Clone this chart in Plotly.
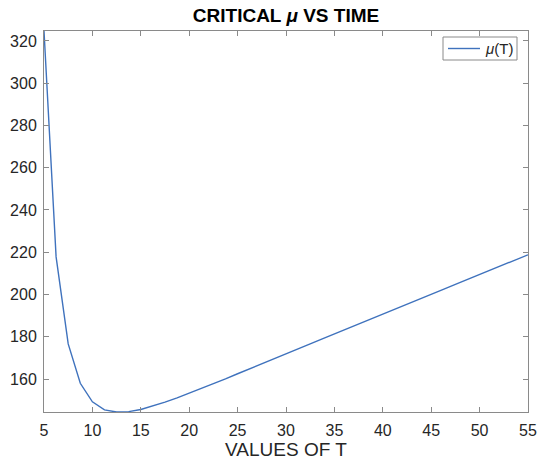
import plotly.graph_objects as go

T_values = [5 + 1.25 * i for i in range(41)]
mu_values = [324.7, 217.8, 176.6, 158.0, 149.2, 145.4, 144.4, 144.6, 145.6, 147.2,
             149.1, 151.1, 153.3, 155.5, 157.8, 160.1, 162.5, 164.8, 167.2, 169.5,
             171.9, 174.3, 176.6, 179.0, 181.3, 183.7, 186.0, 188.4, 190.7, 193.0,
             195.4, 197.7, 200.1, 202.4, 204.8, 207.1, 209.5, 211.8, 214.1, 216.5,
             218.8]
x_ticks = [5, 10, 15, 20, 25, 30, 35, 40, 45, 50, 55]
y_ticks = [160, 180, 200, 220, 240, 260, 280, 300, 320]
legend_label = "<i>μ</i>(T)"

FONT = "Liberation Sans, Arial, sans-serif"
AX = "#8a8a8a"
TXT = "#262626"
LINE = "#3f72bd"

W, H = 539, 460
L, R, TOP, B = 44, 11, 31, 48
PW, PH = W - L - R, H - TOP - B


def px(xp):
    return (xp - L) / PW


def py(yp):
    return (H - B - yp) / PH


fig = go.Figure()
fig.add_trace(go.Scatter(x=T_values, y=mu_values, mode="lines",
                         name=legend_label, showlegend=False,
                         line=dict(color=LINE, width=1.4)))

axis_common = dict(showgrid=False, zeroline=False, showline=True, linecolor=AX,
                   linewidth=1, mirror="ticks", ticks="inside", ticklen=5,
                   tickcolor=AX, automargin=False,
                   tickfont=dict(family=FONT, size=16, color=TXT))

# legend box drawn to match the reference placement
fig.add_shape(type="rect", xref="paper", yref="paper",
              x0=px(443), x1=px(517), y0=py(60), y1=py(37),
              line=dict(color=AX, width=1), fillcolor="white", layer="above")
fig.add_shape(type="line", xref="paper", yref="paper",
              x0=px(448), x1=px(480), y0=py(48.5), y1=py(48.5),
              line=dict(color=LINE, width=1.4), layer="above")
fig.add_annotation(xref="paper", yref="paper", x=px(483), y=py(48.5),
                   xanchor="left", yanchor="middle", showarrow=False,
                   text=legend_label, font=dict(family=FONT, size=15, color=TXT))

fig.update_layout(
    width=W, height=H,
    margin=dict(l=L, r=R, t=TOP, b=B),
    paper_bgcolor="white", plot_bgcolor="white",
    title=dict(text="<b>CRITICAL <i>μ</i> VS TIME</b>", x=0.5, xanchor="center",
               y=1 - 15 / H, yanchor="middle", xref="paper",
               font=dict(family=FONT, size=19, color="black")),
    xaxis=dict(range=[5, 55], tickvals=x_ticks, ticklabelstandoff=4,
               title=dict(text="VALUES OF T", font=dict(family=FONT, size=19, color=TXT),
                          standoff=2),
               **axis_common),
    yaxis=dict(range=[144.4, 324.7], tickvals=y_ticks, ticklabelstandoff=3,
               **axis_common),
    showlegend=False,
)

fig.write_html("out.html")
